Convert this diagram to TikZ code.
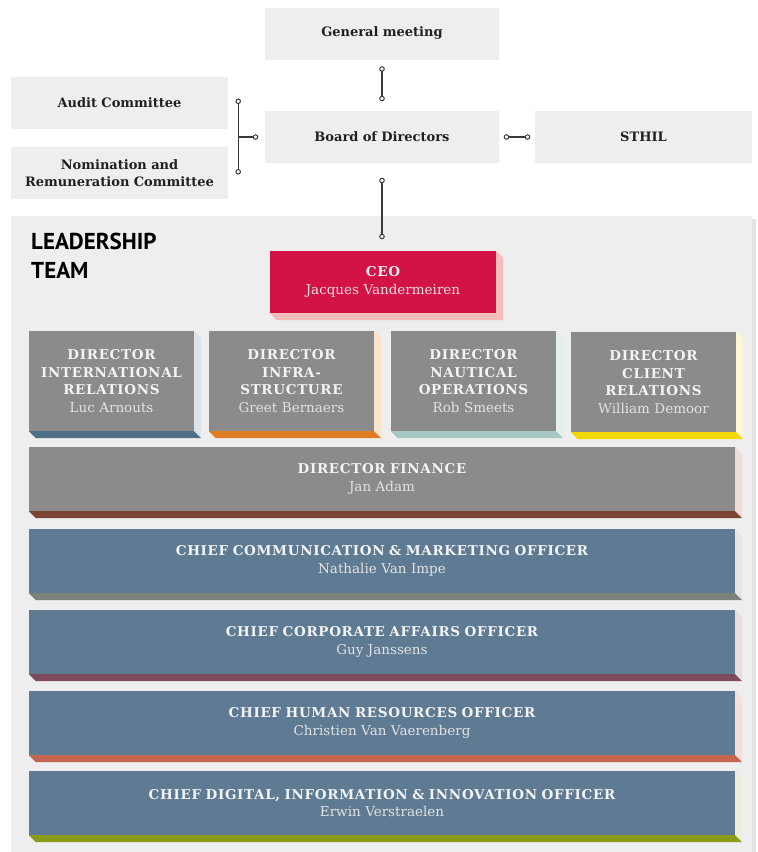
\documentclass[tikz,border=0pt]{standalone}
\usepackage{fontspec}
\setmainfont{DejaVu Serif}
\newfontfamily\capsfont{DejaVu Serif}[LetterSpace=5]
\newfontfamily\headfont{PT Sans}
\usetikzlibrary{arrows.meta, calc}
\definecolor{CPale}{HTML}{EEEEEE}
\definecolor{CEdge}{HTML}{E3E3E3}
\definecolor{CLine}{HTML}{3A3A3A}
\definecolor{CText}{HTML}{231F20}
\definecolor{CFace}{HTML}{F4F4F4}
\definecolor{CName}{HTML}{E2E2E2}
\definecolor{CRed}{HTML}{D31245}
\definecolor{CRedSide}{HTML}{F5BDB8}
\definecolor{CGray}{HTML}{8A8B8A}
\definecolor{CSteel}{HTML}{5E7B93}
\definecolor{CIntl}{HTML}{4F7089}
\definecolor{CIntlSide}{HTML}{DDE5EC}
\definecolor{CInfra}{HTML}{E07D22}
\definecolor{CInfraSide}{HTML}{FCE3CB}
\definecolor{CNaut}{HTML}{A8C8C5}
\definecolor{CNautSide}{HTML}{E5F0EE}
\definecolor{CClient}{HTML}{F3D900}
\definecolor{CClientSide}{HTML}{FFF6D6}
\definecolor{CFin}{HTML}{7A4332}
\definecolor{CFinSide}{HTML}{EEDCD8}
\definecolor{CComm}{HTML}{7C817C}
\definecolor{CCommSide}{HTML}{E6E6E6}
\definecolor{CCorp}{HTML}{7D4A5E}
\definecolor{CCorpSide}{HTML}{E8DCE0}
\definecolor{CHR}{HTML}{C4654F}
\definecolor{CHRSide}{HTML}{F8DFD6}
\definecolor{CDig}{HTML}{8B9B19}
\definecolor{CDigSide}{HTML}{EAEFD7}
\newcommand{\drawSlab}[3]{%
    % right face (pale)
    \fill[#3] (#1.north east) -- ++(7,7) -- ($(#1.south east)+(7,7)$) -- (#1.south east) -- cycle;
    % bottom face (strong)
    \fill[#2] (#1.south west) -- ++(7,7) -- ($(#1.south east)+(7,7)$) -- (#1.south east) -- cycle;
}
\newcommand{\ttl}[1]{{\capsfont\bfseries\color{CFace}#1}}
\tikzset{
    topbox/.style={fill=CPale, text=CText, inner sep=0pt, align=center,
        minimum height=52pt, minimum width=#1, text width=210pt,
        font=\bfseries\fontsize{13}{17}\selectfont},
    slab/.style={inner sep=0pt, align=center, text=CName,
        font=\fontsize{13.5}{17.5}\selectfont},
    dirbox/.style={slab, fill=CGray, minimum width=165pt, minimum height=100pt, text width=163pt},
    widebox/.style={slab, fill=#1, minimum width=706pt, minimum height=64pt, text width=700pt},
    link/.style={draw=CLine, line width=1.2pt,
        arrows={Circle[open, length=5.5pt, line width=1pt]-Circle[open, length=5.5pt, line width=1pt]}},
    stub/.style={draw=CLine, line width=1.2pt,
        arrows={-Circle[open, length=5.5pt, line width=1pt]}}
}

\begin{document}
\begin{tikzpicture}[x=1pt, y=-1pt]
    \useasboundingbox (0,0) rectangle (758,852);

    % --- 1. GOVERNANCE ---
    \node[topbox=234pt] (gm) at (382,33.5) {General meeting};
    \node[topbox=234pt] (bod) at (382,137) {Board of Directors};
    \node[topbox=217pt] (sthil) at (643.5,137) {STHIL};
    \node[topbox=217pt] (audit) at (119.5,103) {Audit Committee};
    \node[topbox=217pt] (nom) at (119.5,173) {Nomination and\\Remuneration Committee};

    % --- 2. LEADERSHIP PANEL ---
    \fill[CEdge] (752,219) rectangle (756,852);
    \fill[CPale] (11,216) rectangle (752,852);
    \node[anchor=north west, inner sep=0pt, align=left, text=black,
        font=\headfont\bfseries\fontsize{23}{29}\selectfont] (lead) at (31,233) {LEADERSHIP\\TEAM};

    % CEO
    \node[slab, fill=CRed, minimum width=226pt, minimum height=62pt, text width=220pt] (ceo) at (383,282)
        {\ttl{CEO}\\Jacques Vandermeiren};
    \drawSlab{ceo}{CRedSide}{CRedSide}

    % Directors
    \node[dirbox] (dintl) at (111.5,381) {\ttl{DIRECTOR}\\\ttl{INTERNATIONAL}\\\ttl{RELATIONS}\\Luc Arnouts};
    \node[dirbox] (dinfra) at (291.5,381) {\ttl{DIRECTOR}\\\ttl{INFRA-}\\\ttl{STRUCTURE}\\Greet Bernaers};
    \node[dirbox] (dnaut) at (473.5,381) {\ttl{DIRECTOR}\\\ttl{NAUTICAL}\\\ttl{OPERATIONS}\\Rob Smeets};
    \node[dirbox] (dclient) at (653.5,382) {\ttl{DIRECTOR}\\\ttl{CLIENT}\\\ttl{RELATIONS}\\William Demoor};
    \drawSlab{dintl}{CIntl}{CIntlSide}
    \drawSlab{dinfra}{CInfra}{CInfraSide}
    \drawSlab{dnaut}{CNaut}{CNautSide}
    \drawSlab{dclient}{CClient}{CClientSide}

    % Wide rows
    \node[widebox=CGray] (dfin) at (382,479) {\ttl{DIRECTOR FINANCE}\\Jan Adam};
    \node[widebox=CSteel] (ccmo) at (382,561) {\ttl{CHIEF COMMUNICATION \& MARKETING OFFICER}\\Nathalie Van Impe};
    \node[widebox=CSteel] (ccao) at (382,642) {\ttl{CHIEF CORPORATE AFFAIRS OFFICER}\\Guy Janssens};
    \node[widebox=CSteel] (chro) at (382,723) {\ttl{CHIEF HUMAN RESOURCES OFFICER}\\Christien Van Vaerenberg};
    \node[widebox=CSteel] (cdio) at (382,803) {\ttl{CHIEF DIGITAL, INFORMATION \& INNOVATION OFFICER}\\Erwin Verstraelen};
    \drawSlab{dfin}{CFin}{CFinSide}
    \drawSlab{ccmo}{CComm}{CCommSide}
    \drawSlab{ccao}{CCorp}{CCorpSide}
    \drawSlab{chro}{CHR}{CHRSide}
    \drawSlab{cdio}{CDig}{CDigSide}

    % --- 3. CONNECTORS ---
    \draw[link, shorten <=6.5pt, shorten >=9.5pt] (gm) -- (bod);
    \draw[link, shorten <=14.5pt, shorten >=11.5pt] (bod.south) -- (bod.south |- ceo.north);
    \draw[link, shorten <=4.5pt, shorten >=4.5pt] (bod) -- (sthil);
    \coordinate (jaud) at ($(audit.east)+(10,-4.5)$);
    \coordinate (jnom) at ($(nom.east)+(10,1.5)$);
    \draw[link] (jaud) -- (jnom);
    \draw[stub, shorten >=6.5pt] (jaud |- bod.west) -- (bod.west);

\end{tikzpicture}
\end{document}
